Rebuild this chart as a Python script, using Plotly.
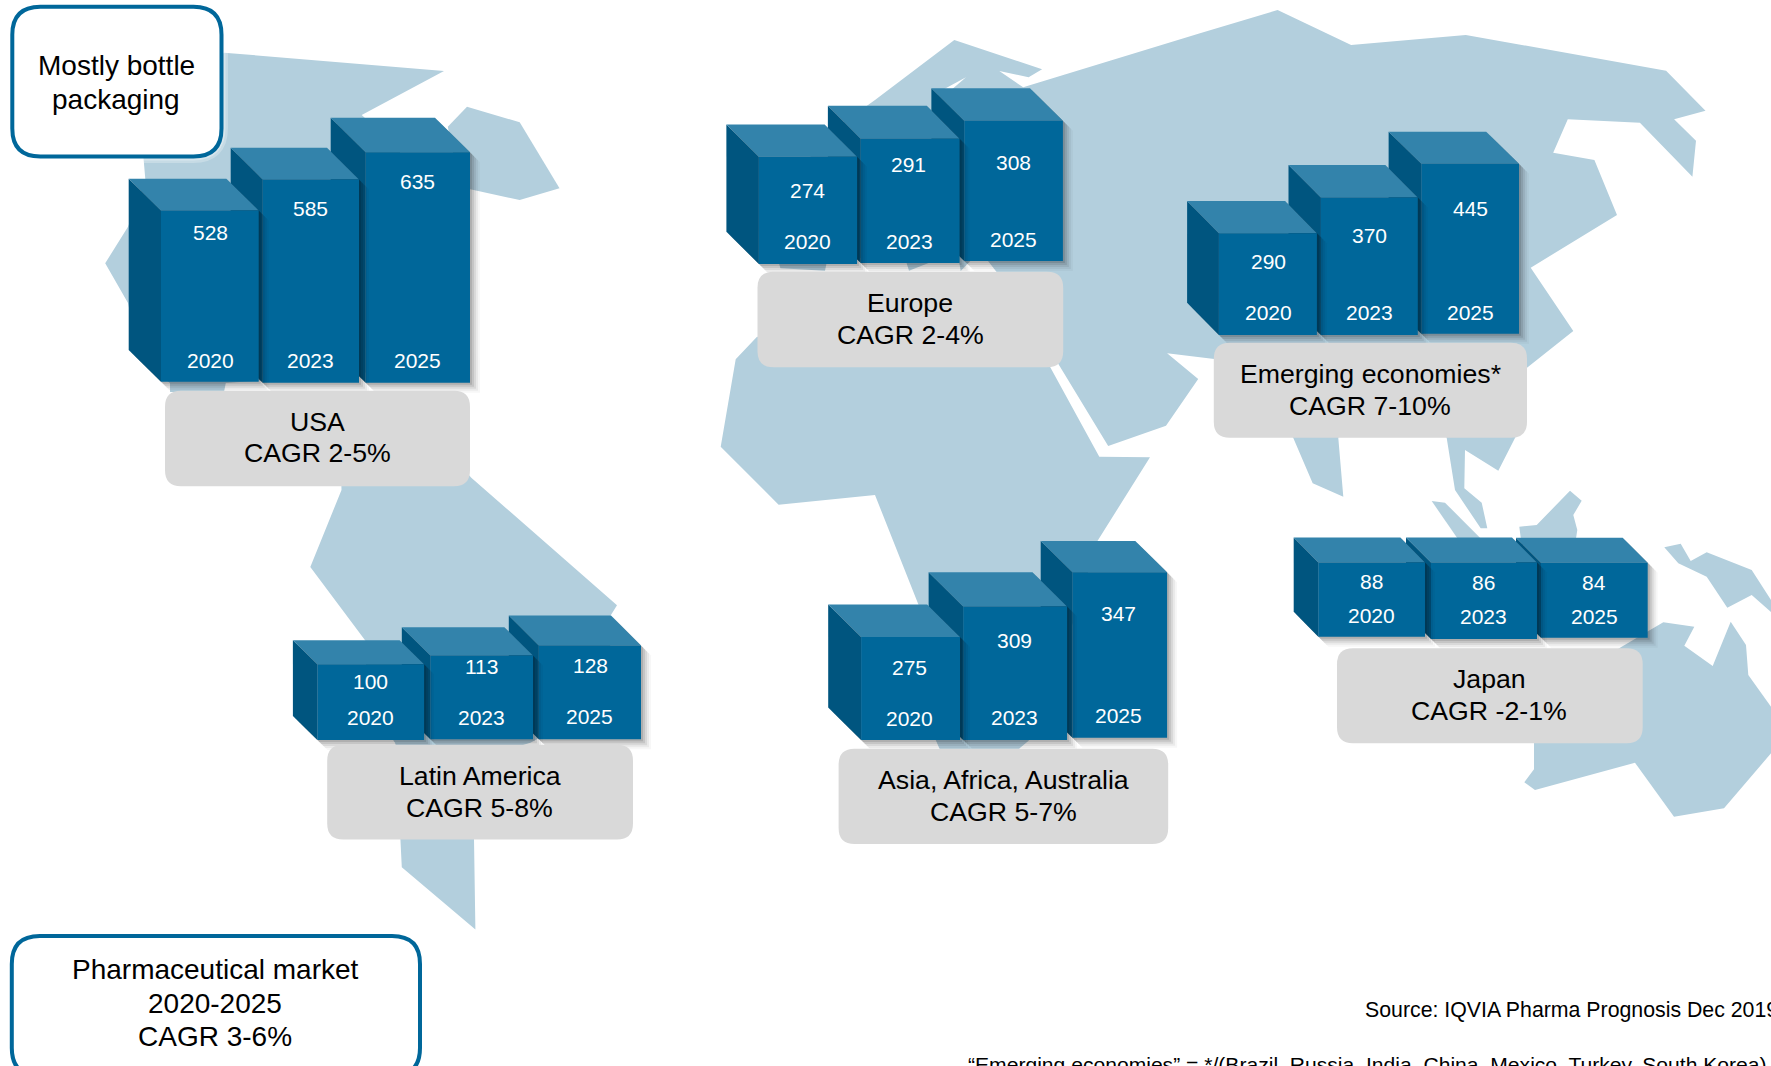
import plotly.graph_objects as go

W, H = 1771, 1066
FONT = "Liberation Sans"
MAP_COL = "#B3CFDD"
FRONT, TOP, SIDE = "#00679A", "#3383AB", "#00557F"
BOX_GREY, BOX_LINE = "#D9D9D9", "#00679A"

# ---------- data ----------
YEARS = [2020, 2023, 2025]
USA_VALUES = [528, 585, 635]
EUROPE_VALUES = [274, 291, 308]
EMERGING_VALUES = [290, 370, 445]
LATAM_VALUES = [100, 113, 128]
ASIA_VALUES = [275, 309, 347]
JAPAN_VALUES = [88, 86, 84]

USA_TITLE = ["USA", "CAGR 2-5%"]
EUROPE_TITLE = ["Europe", "CAGR 2-4%"]
EMERGING_TITLE = ["Emerging economies*", "CAGR 7-10%"]
LATAM_TITLE = ["Latin America", "CAGR 5-8%"]
ASIA_TITLE = ["Asia, Africa, Australia", "CAGR 5-7%"]
JAPAN_TITLE = ["Japan", "CAGR -2-1%"]

# ---------- panel layout (pixels) ----------
# A, k: scale of the panel's value axis, pixel = A - k * value
PANELS = [
    dict(vals=USA_VALUES, title=USA_TITLE, A=497.5, k=0.5438,
         floor=[381.7, 382.7, 382.7], fl=[161, 262.7, 365.7], fr=[258.7, 359, 470],
         dx=[32.3, 32, 35], dy=[31.7, 31.7, 34.4],
         lab=[(210, 232.7), (310.5, 208), (417.7, 181.7)], yr=[(210, 360), (310.5, 360.7), (417.7, 360)],
         box=(165, 390.7, 470, 486.3), tx=317.2, ty=(421.7, 453.3)),
    dict(vals=EUROPE_VALUES, title=EUROPE_TITLE, A=447.0, k=1.059,
         floor=[264, 263, 261], fl=[758.9, 860.7, 964.3], fr=[857.1, 959.6, 1062.9],
         dx=[32.5, 32.8, 32.9], dy=[32.3, 33, 32.6],
         lab=[(807.5, 190.7), (908.9, 164.7), (1013.6, 162)], yr=[(807.5, 241.7), (909.6, 241), (1013.6, 239)],
         box=(757.5, 271.7, 1063.2, 367.3), tx=910.2, ty=(303, 335)),
    dict(vals=EMERGING_VALUES, title=EMERGING_TITLE, A=362.96, k=0.4475,
         floor=[335, 335, 333.7], fl=[1218.9, 1320.9, 1421.4], fr=[1316.9, 1417.8, 1519],
         dx=[31.8, 32.4, 32.8], dy=[32.3, 32.4, 32],
         lab=[(1268.5, 261.2), (1369, 235.7), (1470.2, 208.7)], yr=[(1268.5, 312.5), (1369, 312), (1470.2, 312)],
         box=(1213.8, 342.7, 1527, 437.7), tx=1370.4, ty=(374, 405.7)),
    dict(vals=LATAM_VALUES, title=LATAM_TITLE, A=730.8, k=0.666,
         floor=[740, 739.2, 739.2], fl=[317.4, 430.4, 538.8], fr=[424.1, 533, 641],
         dx=[24.5, 28.6, 30], dy=[24, 28.3, 30],
         lab=[(370.5, 681.8), (481.5, 666.9), (590, 665.7)], yr=[(370.5, 717.2), (481.7, 717.2), (589.7, 716.4)],
         box=(327.2, 744.7, 633, 839.4), tx=479.5, ty=(776, 807.6)),
    dict(vals=ASIA_VALUES, title=ASIA_TITLE, A=884.9, k=0.9011,
         floor=[740, 740, 737.7], fl=[861.1, 963.2, 1072.5], fr=[960, 1067.1, 1167.1],
         dx=[32.9, 34.6, 31.8], dy=[32.6, 34.3, 31.3],
         lab=[(909.5, 667), (1014.6, 640.7), (1118.9, 613.7)], yr=[(909.5, 718), (1014.6, 717.4), (1118.9, 715.2)],
         box=(838.6, 748.7, 1168.2, 844), tx=1003.2, ty=(780, 811.7)),
    dict(vals=JAPAN_VALUES, title=JAPAN_TITLE, A=571.2, k=0.1,
         floor=[636.7, 639, 637.7], fl=[1318.3, 1431, 1541], fr=[1425, 1537, 1647.7],
         dx=[24.6, 25, 25], dy=[25, 25, 25],
         lab=[(1371.3, 581), (1483.7, 582.7), (1594, 582)], yr=[(1371.3, 615.2), (1483.7, 616.2), (1594, 616.2)],
         box=(1337, 648.3, 1642.7, 743.3), tx=1489.3, ty=(679.3, 710.7)),
]

# ---------- background map outline (pixels) ----------
MAP_NORTH_AMERICA = [(224, 52.7), (444, 71), (361.7, 115), (400, 150), (400, 370), (225.8, 383), (224, 392),
                     (170, 392), (170, 383), (140, 360), (128, 303), (105.2, 263.3), (128, 226.7), (145.4, 180),
                     (143.5, 158), (150, 120)]
MAP_GREENLAND = [(467, 106.7), (519.7, 122.3), (559.5, 188.3), (519.7, 200), (460, 187), (447.8, 126.7)]
MAP_SOUTH_AMERICA = [(341, 470), (341.5, 490), (310.3, 567), (366, 641.4), (366, 700), (395, 742.7), (400.4, 760),
                     (400.4, 839), (401.8, 867.3), (475.4, 929.4), (474, 839), (474, 760), (530.4, 742.7), (610, 700),
                     (610.3, 616), (617, 605.2), (471, 477.5), (465, 470)]
MAP_EURASIA = [(875, 100), (954.3, 40), (1042.1, 69.3), (1028.6, 77.3), (999.3, 71), (1023.2, 87.3), (1200, 33.3),
               (1277.6, 10), (1351.1, 45), (1465.8, 35), (1666.1, 70.7), (1705.5, 110.7), (1674.1, 119.3),
               (1696, 140.7), (1692.4, 176.7), (1639.9, 122.7), (1567.8, 119.3), (1553.2, 152.7), (1594.4, 160),
               (1617, 215), (1530.7, 267.7), (1573.3, 331), (1527, 367.7), (1520, 430), (1515, 438),
               (1498.3, 470.7), (1465, 450), (1464.3, 488.3), (1481.7, 502.7), (1487.3, 528.3), (1480.7, 528.3),
               (1455, 490), (1446.7, 438), (1440, 420), (1345, 420), (1338.3, 438), (1343.3, 496.7), (1312.7, 483.3),
               (1293.3, 438), (1280, 420), (1230, 400), (1214.3, 359), (1167.1, 353.3), (1198.2, 379), (1166, 425.7),
               (1108.2, 446), (1057, 361.7), (996.4, 271.7), (985.7, 258), (973.2, 258), (960.7, 271), (958, 255),
               (935, 258), (928.6, 263), (909, 270.7), (905, 258), (830, 258), (826.8, 262), (825, 270.7),
               (780.4, 268.3), (778.6, 262), (770, 200), (840, 125)]
MAP_BALTIC = [(942.9, 89.7), (966, 77.3), (950, 91)]
MAP_AFRICA = [(757, 336.7), (735.7, 359.3), (720.7, 446.7), (778.6, 504.7), (875, 495), (918.6, 605), (935, 700),
              (935.7, 740), (939.3, 748.3), (945, 760), (1015, 760), (1019.6, 748.3), (1028.6, 740.7), (1050, 700),
              (1097, 541.7), (1150, 457.3), (1099.3, 456.7), (1050, 366.7), (1045, 340), (780, 340)]
MAP_SUMATRA = [(1431.7, 501), (1445, 502.7), (1480, 537.7), (1480, 545), (1462, 545)]
MAP_BORNEO = [(1519.3, 526.7), (1536.7, 525), (1570, 490.7), (1581.7, 500.7), (1573.3, 515), (1577.3, 530),
              (1575, 545), (1521.7, 545)]
MAP_GUINEA = [(1664.3, 547.3), (1680.7, 543.7), (1690.7, 561), (1706.7, 552.3), (1751.7, 570), (1771, 600),
              (1771, 612), (1751.7, 595), (1727.3, 607.7), (1706.7, 576.7), (1678.3, 563.3)]
MAP_AUSTRALIA = [(1663.3, 622.3), (1694.3, 626.7), (1684.3, 645.7), (1712.7, 666), (1730.7, 621.7), (1746, 645),
                 (1748.3, 675), (1771, 706.7), (1771, 753.3), (1724, 808.3), (1674, 816.7), (1635, 762.7),
                 (1535, 790), (1524.3, 782.3), (1534, 769.3), (1534, 700), (1621.7, 646.7)]
MAP_LAND = [MAP_NORTH_AMERICA, MAP_GREENLAND, MAP_SOUTH_AMERICA, MAP_EURASIA, MAP_AFRICA,
            MAP_SUMATRA, MAP_BORNEO, MAP_GUINEA, MAP_AUSTRALIA]

fig = go.Figure()


def poly(xs, ys, color, xa="x", ya="y"):
    fig.add_trace(go.Scatter(x=list(xs) + [xs[0]], y=list(ys) + [ys[0]], mode="lines", fill="toself",
                             fillcolor=color, line=dict(width=0), hoverinfo="skip", showlegend=False,
                             xaxis=xa, yaxis=ya))


for land in MAP_LAND:
    poly([p[0] for p in land], [p[1] for p in land], MAP_COL)
poly([p[0] for p in MAP_BALTIC], [p[1] for p in MAP_BALTIC], "#FFFFFF")

layout_axes = {}
shapes, annos = [], []


def text(x, y, s, size, color="#000000", anchor="center"):
    annos.append(dict(x=x, y=y, xref="x", yref="y", text=s, showarrow=False, xanchor=anchor, yanchor="middle",
                      align="center", font=dict(family=FONT, size=size, color=color)))


def rounded(x0, y0, x1, y1, r):
    return (f"M{x0 + r},{y0} L{x1 - r},{y0} Q{x1},{y0} {x1},{y0 + r} L{x1},{y1 - r} Q{x1},{y1} {x1 - r},{y1} "
            f"L{x0 + r},{y1} Q{x0},{y1} {x0},{y1 - r} L{x0},{y0 + r} Q{x0},{y0} {x0 + r},{y0} Z")


for n, p in enumerate(PANELS, start=2):
    A, k = p["A"], p["k"]
    to_val = lambda px: (A - px) / k
    left = min(f - d for f, d in zip(p["fl"], p["dx"])) - 6
    right = max(p["fr"]) + 16
    ptop = A - k * max(p["vals"]) - max(p["dy"]) - 12
    pbot = max(p["floor"]) + 16
    xa, ya = f"x{n}", f"y{n}"
    layout_axes[f"xaxis{n}"] = dict(domain=[left / W, right / W], range=[left, right], visible=False,
                                    anchor=ya, fixedrange=True)
    layout_axes[f"yaxis{n}"] = dict(domain=[1 - pbot / H, 1 - ptop / H], range=[to_val(pbot), to_val(ptop)],
                                    visible=False, anchor=xa, fixedrange=True)
    # rear bars first so that each bar covers the side of the next one
    for i in (2, 1, 0):
        v = p["vals"][i]
        base = to_val(p["floor"][i])
        fl, fr, dx = p["fl"][i], p["fr"][i], p["dx"][i]
        d = p["dy"][i] / k
        sx = [fl - dx, fr - dx, fr, fr, fl, fl - dx]
        sy = [v + d, v + d, v, base, base, base + d]
        for off, alpha in ((10, 0.03), (8, 0.05), (6, 0.07), (4, 0.09), (2, 0.11)):
            poly([s + off for s in sx], [s - off / k for s in sy], f"rgba(0,0,0,{alpha})", xa, ya)
        poly([fl - dx, fl, fl, fl - dx], [v + d, v, base, base + d], SIDE, xa, ya)
        poly([fl - dx, fr - dx, fr, fl], [v + d, v + d, v, v], TOP, xa, ya)
        poly([fl, fr, fr, fl], [v, v, base, base], FRONT, xa, ya)
        text(p["lab"][i][0], p["lab"][i][1], str(v), 21, "#FFFFFF")
        text(p["yr"][i][0], p["yr"][i][1], str(YEARS[i]), 21, "#FFFFFF")
    x0, y0, x1, y1 = p["box"]
    shapes.append(dict(type="path", path=rounded(x0, y0, x1, y1, 16), xref="x", yref="y",
                       fillcolor=BOX_GREY, line=dict(width=0), layer="above"))
    for t, ty in zip(p["title"], p["ty"]):
        text(p["tx"], ty, t, 26.7)

# outlined call-out boxes (soft white halo under the first one)
for halo_w, halo_a in ((14, 0.25), (9, 0.3)):
    shapes.append(dict(type="path", path=rounded(12.3, 6.7, 221, 156, 28), xref="x", yref="y",
                       fillcolor="rgba(0,0,0,0)", line=dict(color=f"rgba(255,255,255,{halo_a})", width=halo_w),
                       layer="above"))
shapes.append(dict(type="path", path=rounded(12.3, 6.7, 221.5, 156.5, 28), xref="x", yref="y",
                   fillcolor="#FFFFFF", line=dict(color=BOX_LINE, width=4), layer="above"))
shapes.append(dict(type="path", path=rounded(11.8, 936, 420, 1076, 28), xref="x", yref="y",
                   fillcolor="#FFFFFF", line=dict(color=BOX_LINE, width=4), layer="above"))
text(116.3, 65.7, "Mostly bottle", 28)
text(116.3, 99, "packaging", 28)
text(215, 969.4, "Pharmaceutical market", 28)
text(215, 1003.2, "2020-2025", 28)
text(215, 1036.2, "CAGR 3-6%", 28)
text(1362.5, 1010, "Source: IQVIA Pharma Prognosis Dec 2019", 21.3, anchor="left")
text(966, 1064, "“Emerging economies” = */(Brazil, Russia, India, China, Mexico, Turkey, South Korea)", 21.1,
     anchor="left")

fig.update_layout(
    width=W, height=H, margin=dict(l=0, r=0, t=0, b=0), autosize=False,
    paper_bgcolor="#FFFFFF", plot_bgcolor="rgba(0,0,0,0)", showlegend=False,
    xaxis=dict(range=[0, W], domain=[0, 1], visible=False, fixedrange=True),
    yaxis=dict(range=[H, 0], domain=[0, 1], visible=False, fixedrange=True),
    shapes=shapes, annotations=annos, **layout_axes,
)
fig.write_html("out.html", config=dict(displayModeBar=False),
               post_script="document.body.style.margin='0';document.body.style.overflow='hidden';")
